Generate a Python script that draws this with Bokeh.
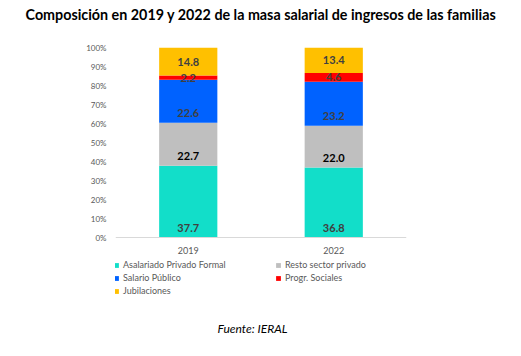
from bokeh.plotting import figure
from bokeh.models import (ColumnDataSource, Legend, LegendItem, FixedTicker,
                          PrintfTickFormatter, FactorRange, Range1d, Label, Span, Title)
from bokeh.core.properties import value
from bokeh.embed import file_html
from bokeh.resources import INLINE

years = ["2019", "2022"]
series = ["Asalariado Privado Formal", "Resto sector privado", "Salario Público",
          "Progr. Sociales", "Jubilaciones"]
asalariado = [37.7, 36.8]
resto = [22.7, 22.0]
publico = [22.6, 23.2]
progr = [2.2, 4.6]
jubil = [14.8, 13.4]
y_ticks = [0, 10, 20, 30, 40, 50, 60, 70, 80, 90, 100]
title_text = "Composición en 2019 y 2022 de la masa salarial de ingresos de las familias"
source_text = "Fuente: IERAL"

colors = ["#12DEC9", "#BFBFBF", "#0062FF", "#FF0000", "#FFC000"]
label_colors = ["#404040", "#000000", "#404040", "#404040", "#404040"]
FONT = "Lato"

values = [asalariado, resto, publico, progr, jubil]

# The frame extends below the 0% line to host the category labels, legend and source note
p = figure(x_range=FactorRange(*years, range_padding=0), y_range=Range1d(-62.63, 100),
           width=521, height=356, output_backend="svg", toolbar_location=None,
           x_axis_location=None, title=None,
           min_border_left=115, min_border_right=115, min_border_top=47,
           min_border_bottom=0)
p.outline_line_color = None
p.xgrid.grid_line_color = None
p.ygrid.grid_line_color = None

# bars first
renderers = []
label_specs = []
base = [0.0] * len(years)
for i, vals in enumerate(values):
    top = [b + v for b, v in zip(base, vals)]
    src = ColumnDataSource(dict(x=years, bottom=base, top=top))
    r = p.vbar(x="x", bottom="bottom", top="top", width=0.4, source=src,
               fill_color=colors[i], line_color=None)
    renderers.append(r)
    if i < 3:
        label_specs.append((base, vals, -10, label_colors[i]))
    else:
        label_specs.append(([b + v / 2 for b, v in zip(base, vals)], vals, 0, label_colors[i]))
    base = top

# value labels on top of all bars
for ly, vals, off, col in label_specs:
    lsrc = ColumnDataSource(dict(x=years, y=ly, t=[f"{v:.1f}" for v in vals]))
    p.text(x="x", y="y", text="t", source=lsrc, y_offset=off, text_align="center",
           text_baseline="middle", text_font_size="11px", text_font_style="bold",
           text_color=col, text_font=value(FONT))

# category axis: baseline + labels
p.add_layout(Span(location=0, dimension="width", line_color="#D9D9D9", line_width=1))
csrc = ColumnDataSource(dict(x=years, y=[0] * len(years), t=years))
p.text(x="x", y="y", text="t", source=csrc, y_offset=13, text_align="center",
       text_baseline="middle", text_font_size="9px", text_color="#595959",
       text_font=value(FONT))

# Y axis
p.yaxis.ticker = FixedTicker(ticks=y_ticks)
p.yaxis.formatter = PrintfTickFormatter(format="%d%%")
p.yaxis.axis_line_color = None
p.yaxis.major_tick_line_color = None
p.yaxis.minor_tick_line_color = None
p.yaxis.major_tick_out = 0
p.yaxis.major_tick_in = 0
p.yaxis.major_label_text_font_size = "8px"
p.yaxis.major_label_text_color = "#595959"
p.yaxis.major_label_text_font = FONT
p.yaxis.major_label_standoff = 9

# Title (a blank spacer sits between the frame and the title)
spacer = Title(text=" ", text_font_size="15px", standoff=0)
p.add_layout(spacer, "above")
main_title = Title(text=title_text, align="center", vertical_align="top",
                   text_font=FONT, text_font_size="14.3px", text_font_style="bold",
                   text_color="#000000", standoff=8)
p.add_layout(main_title, "above")

# Legend (below the 0% line, inside the frame)
items = [LegendItem(label=s, renderers=[r]) for s, r in zip(series, renderers)]
legend = Legend(items=items, orientation="horizontal", ncols=2,
                glyph_width=6, glyph_height=6, label_standoff=4,
                label_text_font=FONT, label_text_font_size="9px",
                label_text_color="#595959", label_height=9, label_width=150,
                spacing=2, padding=0, margin=0, border_line_color=None,
                background_fill_alpha=0, location=(-2, 60))
p.add_layout(legend)

src_label = Label(x=137, y=28, x_units="screen", y_units="screen",
                  text=source_text, text_align="center", text_baseline="middle",
                  text_font=FONT, text_font_size="12px", text_font_style="italic",
                  text_color="#000000")
p.add_layout(src_label)

open("out.html", "w").write(file_html(p, INLINE))
